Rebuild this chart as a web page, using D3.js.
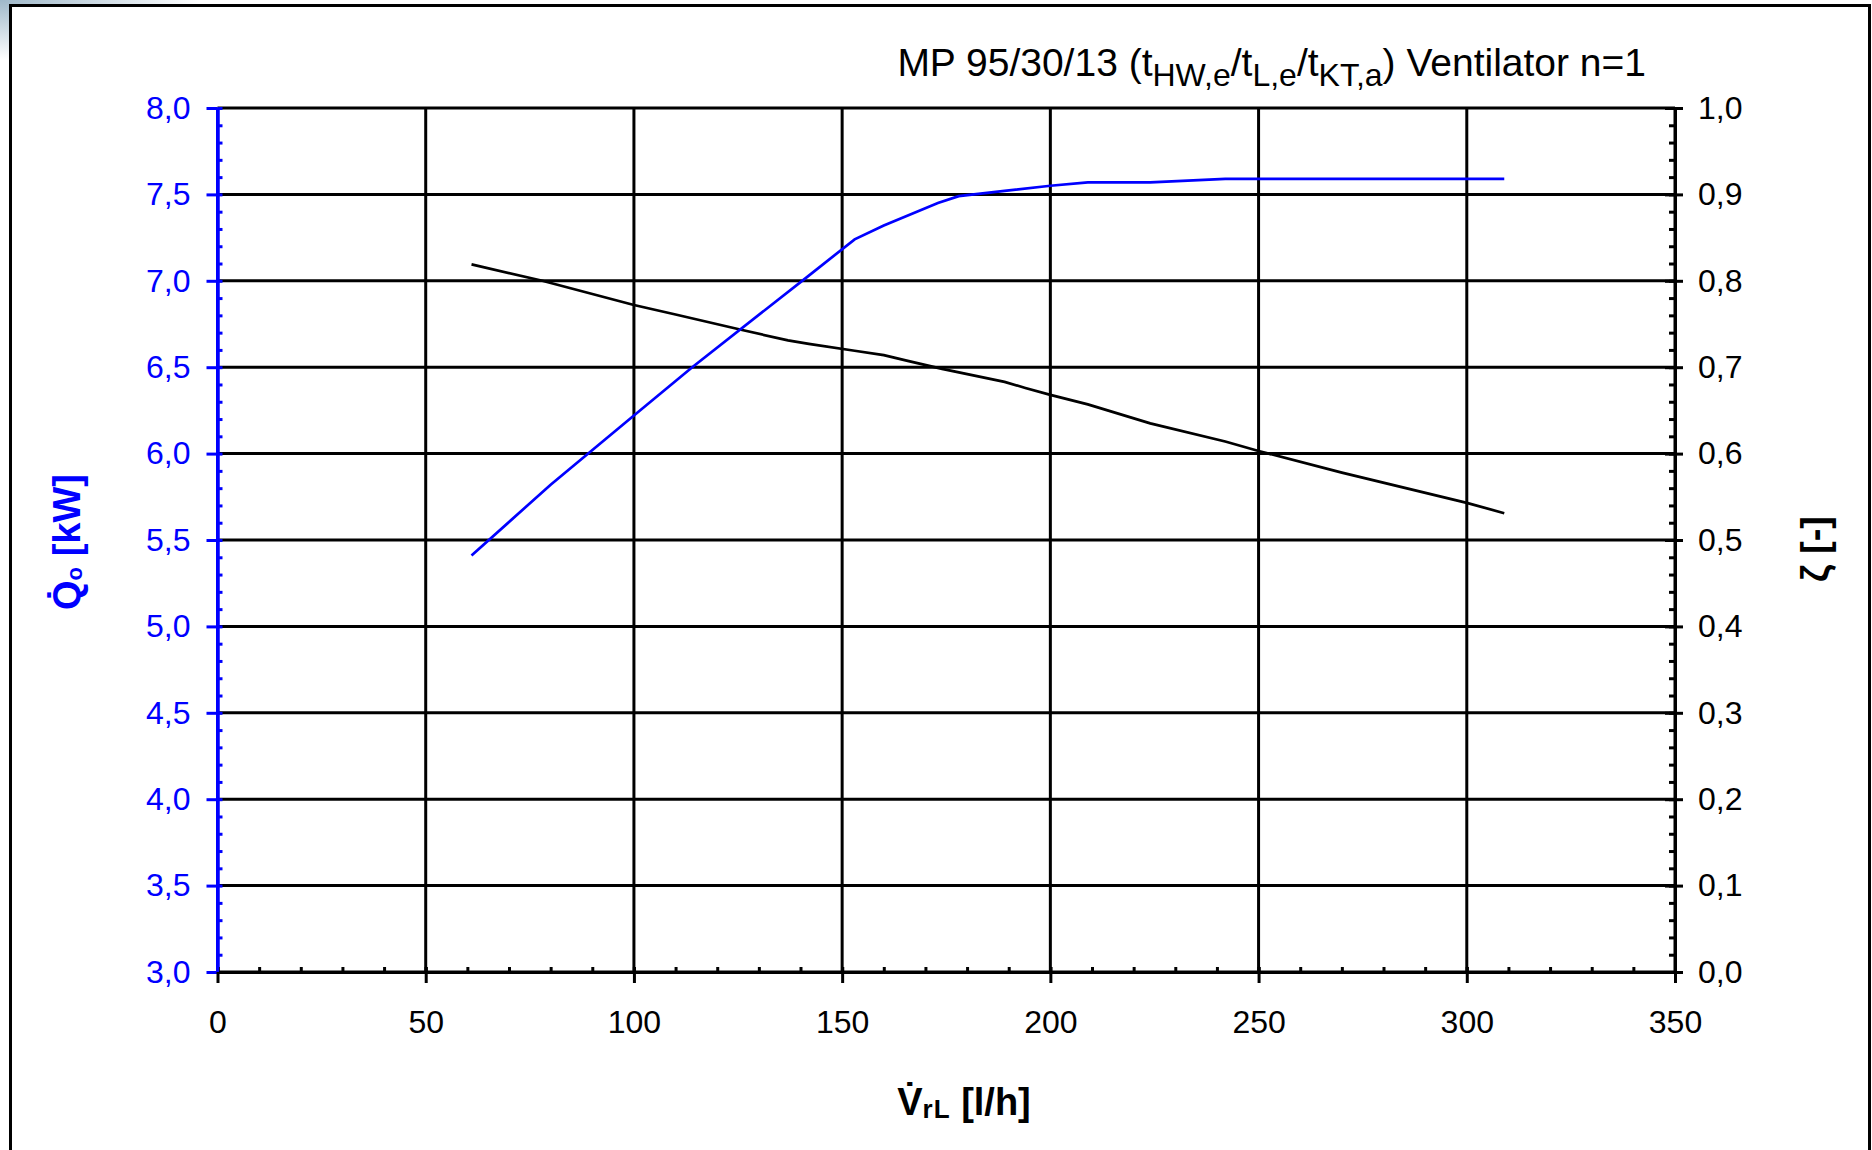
<!DOCTYPE html>
<html>
<head>
<meta charset="utf-8">
<script src="https://cdn.jsdelivr.net/npm/d3@7"></script>
<style>
  body { margin: 0; background: #fff; }
  text { font-family: "Liberation Sans", Arial, sans-serif; }
</style>
</head>
<body>
<svg width="1872" height="1150"></svg>
<script>
// data
const qX    = [61, 80, 100, 114, 142, 153, 160, 173, 178, 189, 200, 209, 224, 242, 309];
const qVals = [5.41, 5.82, 6.22, 6.50, 7.03, 7.24, 7.32, 7.45, 7.49, 7.52, 7.55, 7.57, 7.57, 7.59, 7.59];

const zX    = [61, 78, 100, 110, 126, 137, 142, 153, 160, 166, 174, 189, 194, 200, 209, 224, 242, 250, 270, 300, 309];
const zVals = [0.819, 0.80, 0.772, 0.761, 0.743, 0.731, 0.727, 0.719, 0.714, 0.707, 0.698, 0.683, 0.676, 0.668, 0.657, 0.635, 0.614, 0.603, 0.578, 0.543, 0.531];

const xTicks = [0, 50, 100, 150, 200, 250, 300, 350];
const qTicks = [3, 3.5, 4, 4.5, 5, 5.5, 6, 6.5, 7, 7.5, 8];
const zTicks = [0, 0.1, 0.2, 0.3, 0.4, 0.5, 0.6, 0.7, 0.8, 0.9, 1.0];

let svg = d3.select("svg");
const blue = "#0000ff";

let x = d3.scaleLinear().domain([0, 350]).range([217.5, 1675]);
let yQ = d3.scaleLinear().domain([3, 8]).range([972, 108]);
let yZ = d3.scaleLinear().domain([0, 1]).range([972, 108]);
const comma = d => d3.format(".1f")(d).replace(".", ",");

// corner shading + frame
let defs = svg.append("defs");
let rg = defs.append("radialGradient").attr("id", "corner").attr("cx", 0).attr("cy", 0).attr("r", 1);
rg.append("stop").attr("offset", "0%").attr("stop-color", "#9fb8c9");
rg.append("stop").attr("offset", "100%").attr("stop-color", "#ffffff");
svg.append("rect").attr("x", 0).attr("y", 0).attr("width", 200).attr("height", 60).attr("fill", "url(#corner)");
svg.append("rect").attr("x", 10.5).attr("y", 5.5).attr("width", 1859).attr("height", 1200)
  .attr("fill", "#fff").attr("stroke", "#000").attr("stroke-width", 3);

// grid
let grid = svg.append("g").attr("stroke", "#000").attr("stroke-width", 3);
grid.selectAll(".h").data(qTicks).enter().append("line")
  .attr("x1", x(0)).attr("x2", x(350)).attr("y1", d => yQ(d)).attr("y2", d => yQ(d));
grid.selectAll(".v").data(xTicks).enter().append("line")
  .attr("y1", yQ(3)).attr("y2", yQ(8)).attr("x1", d => x(d)).attr("x2", d => x(d));

function styleAxis(g, color, size) {
  g.attr("color", color).attr("font-size", size).attr("font-family", "Liberation Sans, Arial, sans-serif");
  g.selectAll("line").attr("stroke-width", 3);
  g.select(".domain").attr("stroke-width", 3);
}

// left axis (blue)
let lMinor = svg.append("g").attr("transform", `translate(${x(0)},0)`)
  .call(d3.axisRight(yQ).tickValues(d3.range(30, 81).map(d => d / 10)).tickSize(5).tickSizeOuter(0).tickFormat(""));
styleAxis(lMinor, blue, 32);
let lMajor = svg.append("g").attr("transform", `translate(${x(0)},0)`)
  .call(d3.axisLeft(yQ).tickValues(qTicks).tickSize(11).tickSizeOuter(0).tickPadding(16).tickFormat(comma));
styleAxis(lMajor, blue, 32);

// right axis
let rMinor = svg.append("g").attr("transform", `translate(${x(350)},0)`)
  .call(d3.axisLeft(yZ).tickValues(d3.range(0, 51).map(d => d / 50)).tickSize(6).tickSizeOuter(0).tickFormat(""));
styleAxis(rMinor, "#000", 32);
let rMajor = svg.append("g").attr("transform", `translate(${x(350)},0)`)
  .call(d3.axisRight(yZ).tickValues(zTicks).tickSize(8).tickSizeOuter(0).tickPadding(15).tickFormat(comma));
styleAxis(rMajor, "#000", 32);
rMajor.selectAll(".tick line").attr("x1", -10);

// bottom axis
let bMinor = svg.append("g").attr("transform", `translate(0,${yQ(3)})`)
  .call(d3.axisTop(x).tickValues(d3.range(0, 351, 10)).tickSize(5).tickSizeOuter(0).tickFormat(""));
styleAxis(bMinor, "#000", 32);
let bMajor = svg.append("g").attr("transform", `translate(0,${yQ(3)})`)
  .call(d3.axisBottom(x).tickValues(xTicks).tickSize(11).tickSizeOuter(0).tickPadding(27).tickFormat(d3.format("d")));
styleAxis(bMajor, "#000", 32);
bMajor.selectAll(".tick line").attr("y1", -5);

// left axis line drawn blue over the bottom axis start
svg.append("line").attr("x1", x(0)).attr("x2", x(0)).attr("y1", yQ(8)).attr("y2", yQ(3))
  .attr("stroke", blue).attr("stroke-width", 3);

// curves
let zLine = d3.line().x((d, i) => x(zX[i])).y(d => yZ(d));
let qLine = d3.line().x((d, i) => x(qX[i])).y(d => yQ(d));
svg.append("path").attr("d", zLine(zVals)).attr("fill", "none").attr("stroke", "#000").attr("stroke-width", 2.7);
svg.append("path").attr("d", qLine(qVals)).attr("fill", "none").attr("stroke", blue).attr("stroke-width", 2.7);

// title
let title = svg.append("text").attr("x", 1646).attr("y", 76).attr("text-anchor", "end").attr("font-size", 39);
const parts = [["MP 95/30/13 (t", 0], ["HW,e", 1], ["/t", 0], ["L,e", 1], ["/t", 0], ["KT,a", 1], [") Ventilator n=1", 0]];
parts.forEach((p, i) => {
  title.append("tspan").text(p[0])
    .attr("font-size", p[1] ? 32 : 39)
    .attr("dy", p[1] ? 10 : (i > 0 ? -10 : 0));
});

// axis titles
let xt = svg.append("text").attr("x", 964).attr("y", 1115).attr("text-anchor", "middle")
  .attr("font-size", 38).attr("font-weight", "bold");
xt.append("tspan").text("V\u0307");
xt.append("tspan").text("rL").attr("font-size", 26).attr("dy", 3).attr("letter-spacing", 1);
xt.append("tspan").text(" [l/h]").attr("dy", -3);

let yl = svg.append("text").attr("transform", "translate(80,542) rotate(-90)").attr("text-anchor", "middle")
  .attr("font-size", 38).attr("font-weight", "bold").attr("fill", blue);
yl.append("tspan").text("Q\u0307");
yl.append("tspan").text("o").attr("font-size", 22).attr("dy", 2);
yl.append("tspan").text(" [kW]").attr("dy", -2);

svg.append("text").attr("transform", "translate(1828,549) rotate(-90)").attr("text-anchor", "middle")
  .attr("font-size", 38).attr("font-weight", "bold").attr("fill", "#000")
  .text("ζ [-]");
</script>
</body>
</html>
